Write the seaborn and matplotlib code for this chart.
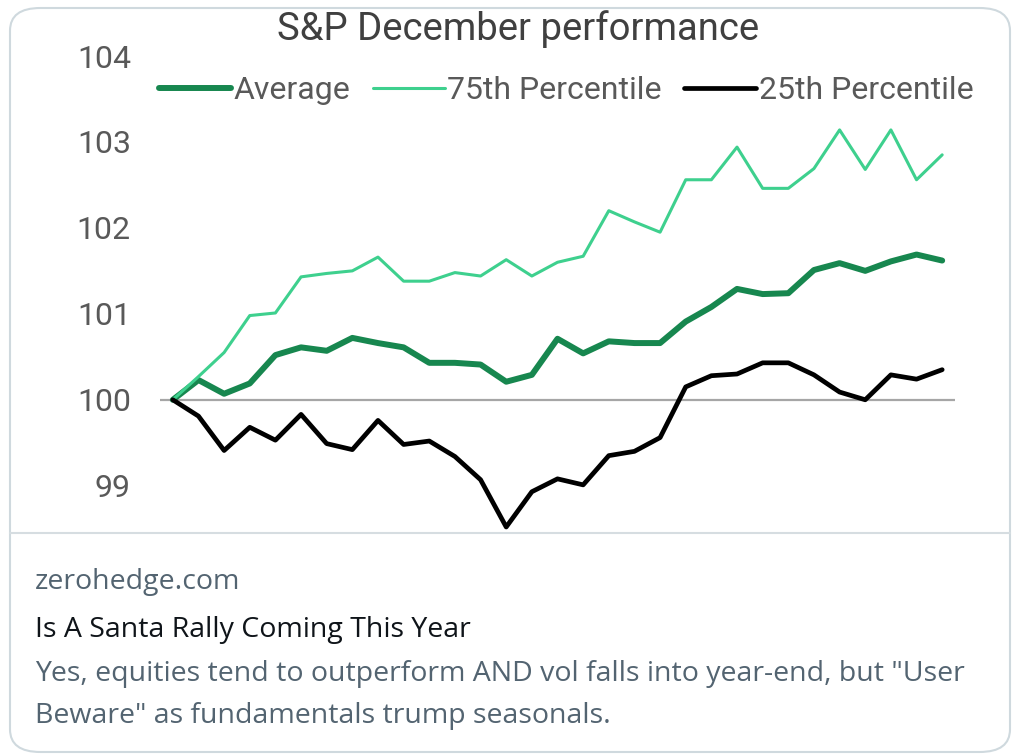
import matplotlib
matplotlib.use("Agg")
import matplotlib.pyplot as plt
from matplotlib.patches import FancyBboxPatch
from matplotlib.lines import Line2D
import seaborn as sns
import pandas as pd
import numpy as np

# values, one per December day
average = [100.0, 100.23, 100.07, 100.19, 100.52, 100.61, 100.57, 100.72, 100.66, 100.61,
           100.43, 100.43, 100.41, 100.21, 100.29, 100.71, 100.54, 100.68, 100.66, 100.66,
           100.91, 101.08, 101.29, 101.23, 101.24, 101.51, 101.59, 101.5, 101.61, 101.69, 101.62]
pct75 = [100.0, 100.27, 100.55, 100.98, 101.01, 101.43, 101.47, 101.5, 101.66, 101.38,
         101.38, 101.48, 101.44, 101.63, 101.44, 101.6, 101.67, 102.2, 102.07, 101.95,
         102.56, 102.56, 102.94, 102.46, 102.46, 102.69, 103.14, 102.68, 103.14, 102.56, 102.85]
pct25 = [100.0, 99.81, 99.41, 99.68, 99.53, 99.83, 99.49, 99.42, 99.76, 99.48,
         99.52, 99.34, 99.07, 98.52, 98.93, 99.08, 99.01, 99.35, 99.4, 99.56,
         100.15, 100.28, 100.3, 100.43, 100.43, 100.29, 100.09, 100.0, 100.29, 100.24, 100.35]
days = list(range(len(average)))

series_names = ["Average", "75th Percentile", "25th Percentile"]
series_colors = ["#17874f", "#3ed08e", "#000000"]
series_widths = [4.3, 2.2, 3.4]
y_ticks = [99, 100, 101, 102, 103, 104]

title = "S&P December performance"
site = "zerohedge.com"
headline = "Is A Santa Rally Coming This Year"
desc_1 = 'Yes, equities tend to outperform AND vol falls into year-end, but "User'
desc_2 = 'Beware" as fundamentals trump seasonals.'

df = pd.DataFrame({"day": days * 3,
                   "value": average + pct75 + pct25,
                   "series": [s for s in series_names for _ in days]})

sns.set_style("white")
plt.rcParams["font.family"] = ["Roboto", "DejaVu Sans"]

fig = plt.figure(figsize=(10.13, 7.56), dpi=100)
W, H = 1013, 756

# card frame
card = FancyBboxPatch((10 / W, 4 / H), 1000 / W, 744 / H,
                      boxstyle="round,pad=0,rounding_size=0.03",
                      transform=fig.transFigure, facecolor="none",
                      edgecolor="#cfd9de", linewidth=1.5, zorder=-1)
fig.patches.append(card)
fig.add_artist(Line2D([10 / W, 1010 / W], [1 - 533 / H, 1 - 533 / H],
                      transform=fig.transFigure, color="#d6dde1", lw=1.5))

ax = fig.add_axes([160 / W, 1 - 533 / H, 795 / W, 477 / H])
ax.set_facecolor("none")
ax.axhline(100, color="#a6a6a6", lw=1.6, zorder=1)

for name, color, lw in zip(series_names, series_colors, series_widths):
    sns.lineplot(data=df[df["series"] == name], x="day", y="value", ax=ax,
                 color=color, linewidth=lw, label=name, zorder=3)

ax.set_xlim(-0.5, 30.5)
ax.set_ylim(98.45, 104)
ax.set_yticks(y_ticks)
ax.set_xticks([])
ax.set_xlabel("")
ax.set_ylabel("")
ax.tick_params(axis="y", length=0, pad=21, labelsize=23, labelcolor="#595959")
for s in ax.spines.values():
    s.set_visible(False)

ax.legend(loc="center", bbox_to_anchor=(0.511, 0.927), ncol=3, frameon=False,
          fontsize=23, handlelength=2.25, handletextpad=0.08, columnspacing=0.7,
          labelcolor="#595959", borderaxespad=0)

fig.text(518 / W, 1 - 29 / H, title, ha="center", va="center",
         fontsize=27.5, color="#404040")

bottom_font = ["Open Sans", "DejaVu Sans"]
fig.text(35 / W, 1 - 589 / H, site, ha="left", va="baseline",
         fontsize=20.5, color="#536471", family=bottom_font)
fig.text(35 / W, 1 - 637 / H, headline, ha="left", va="baseline",
         fontsize=20.5, color="#0f1419", family=bottom_font)
fig.text(35 / W, 1 - 681 / H, desc_1, ha="left", va="baseline",
         fontsize=20.5, color="#536471", family=bottom_font)
fig.text(35 / W, 1 - 723 / H, desc_2, ha="left", va="baseline",
         fontsize=20.5, color="#536471", family=bottom_font)

fig.savefig("out.png", dpi=100)
